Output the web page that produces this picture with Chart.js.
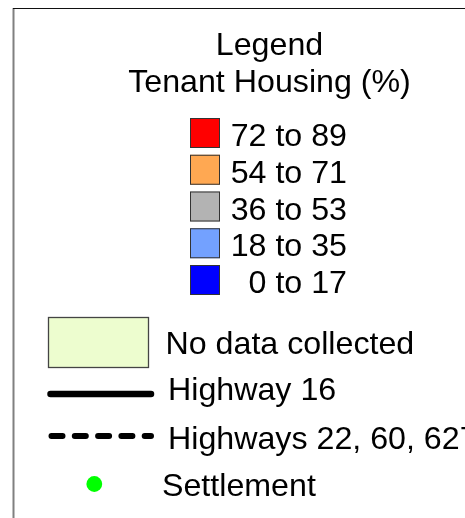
<!DOCTYPE html>
<html>
<head>
<meta charset="utf-8">
<script src="https://cdn.jsdelivr.net/npm/chart.js@4/dist/chart.umd.min.js"></script>
<style>
html,body{margin:0;padding:0;background:#fff;}
canvas{display:block;}
</style>
</head>
<body>
<canvas id="c" width="465" height="518"></canvas>
<script>
// ---- data ----
const titleLines = ['Legend', 'Tenant Housing (%)'];
const classLabels = ['72 to 89', '54 to 71', '36 to 53', '18 to 35', '0 to 17'];
const classColors = ['#ff0000', '#ffa852', '#b3b3b3', '#73a1ff', '#0000ff'];
const extraLabels = ['No data collected', 'Highway 16', 'Highways 22, 60, 627', 'Settlement'];
const extraKinds = ['area', 'solid', 'dashed', 'point'];
const extraColors = ['#edfdcf', '#000000', '#000000', '#00ff00'];

const FONT = '32.2px "Liberation Sans", Arial, Helvetica, sans-serif';

const datasets = [];
classLabels.forEach((l, i) => datasets.push({ type: 'bar', label: l, data: [], backgroundColor: classColors[i], borderColor: '#333', kind: 'class' }));
extraLabels.forEach((l, i) => datasets.push({ type: extraKinds[i] === 'point' ? 'scatter' : (extraKinds[i] === 'area' ? 'bar' : 'line'), label: l, data: [], backgroundColor: extraColors[i], borderColor: extraKinds[i] === 'area' ? '#444' : extraColors[i], kind: extraKinds[i] }));

const legendPlugin = {
  id: 'mapLegend',
  afterDraw(chart) {
    const ctx = chart.ctx;
    const W = chart.width, H = chart.height;
    ctx.save();
    ctx.fillStyle = '#fff';
    ctx.fillRect(0, 0, W, H);
    // frame
    ctx.strokeStyle = '#808080';
    ctx.lineWidth = 2;
    ctx.beginPath(); ctx.moveTo(13.5, 8); ctx.lineTo(13.5, H); ctx.stroke();
    ctx.strokeStyle = '#111';
    ctx.lineWidth = 1;
    ctx.beginPath(); ctx.moveTo(13, 8.5); ctx.lineTo(W, 8.5); ctx.stroke();

    ctx.font = FONT;
    ctx.fillStyle = '#000';
    ctx.textBaseline = 'alphabetic';
    ctx.textAlign = 'center';
    titleLines.forEach((t, i) => ctx.fillText(t, 269.5, 55 + i * 37));

    chart.data.datasets.forEach((ds, idx) => {
      if (ds.kind === 'class') {
        const top = 118 + idx * 36.75;
        ctx.fillStyle = ds.backgroundColor;
        ctx.fillRect(190, top, 30, 30);
        ctx.strokeStyle = ds.borderColor; ctx.lineWidth = 1;
        ctx.strokeRect(190.5, top + 0.5, 29, 29);
        ctx.fillStyle = '#000';
        ctx.textAlign = 'right';
        ctx.fillText(ds.label, 347, top + 28);
      } else {
        ctx.textAlign = 'left';
        if (ds.kind === 'area') {
          ctx.fillStyle = ds.backgroundColor;
          ctx.fillRect(48, 317, 101, 51);
          ctx.strokeStyle = ds.borderColor; ctx.lineWidth = 1.3;
          ctx.strokeRect(48.5, 317.5, 100, 50);
          ctx.fillStyle = '#000';
          ctx.fillText(ds.label, 165.5, 354);
        } else if (ds.kind === 'solid') {
          ctx.strokeStyle = ds.borderColor; ctx.lineWidth = 6.5; ctx.lineCap = 'round';
          ctx.beginPath(); ctx.moveTo(50.5, 394); ctx.lineTo(151, 394); ctx.stroke();
          ctx.fillStyle = '#000';
          ctx.fillText(ds.label, 168, 400);
        } else if (ds.kind === 'dashed') {
          ctx.strokeStyle = ds.borderColor; ctx.lineWidth = 6; ctx.lineCap = 'round';
          ctx.setLineDash([11, 12.3]);
          ctx.beginPath(); ctx.moveTo(51.5, 436); ctx.lineTo(151, 436); ctx.stroke();
          ctx.setLineDash([]);
          ctx.fillStyle = '#000';
          ctx.fillText(ds.label, 168, 449);
        } else if (ds.kind === 'point') {
          ctx.fillStyle = ds.backgroundColor;
          ctx.beginPath(); ctx.arc(94.3, 484, 7.9, 0, Math.PI * 2); ctx.fill();
          ctx.fillStyle = '#000';
          ctx.fillText(ds.label, 162, 496);
        }
      }
    });
    ctx.restore();
  }
};

new Chart(document.getElementById('c'), {
  type: 'bar',
  data: { labels: [], datasets: datasets },
  options: {
    responsive: false,
    animation: false,
    events: [],
    layout: { padding: 0 },
    plugins: { legend: { display: false }, tooltip: { enabled: false }, title: { display: false } },
    scales: { x: { display: false }, y: { display: false } }
  },
  plugins: [legendPlugin]
});
</script>
</body>
</html>
